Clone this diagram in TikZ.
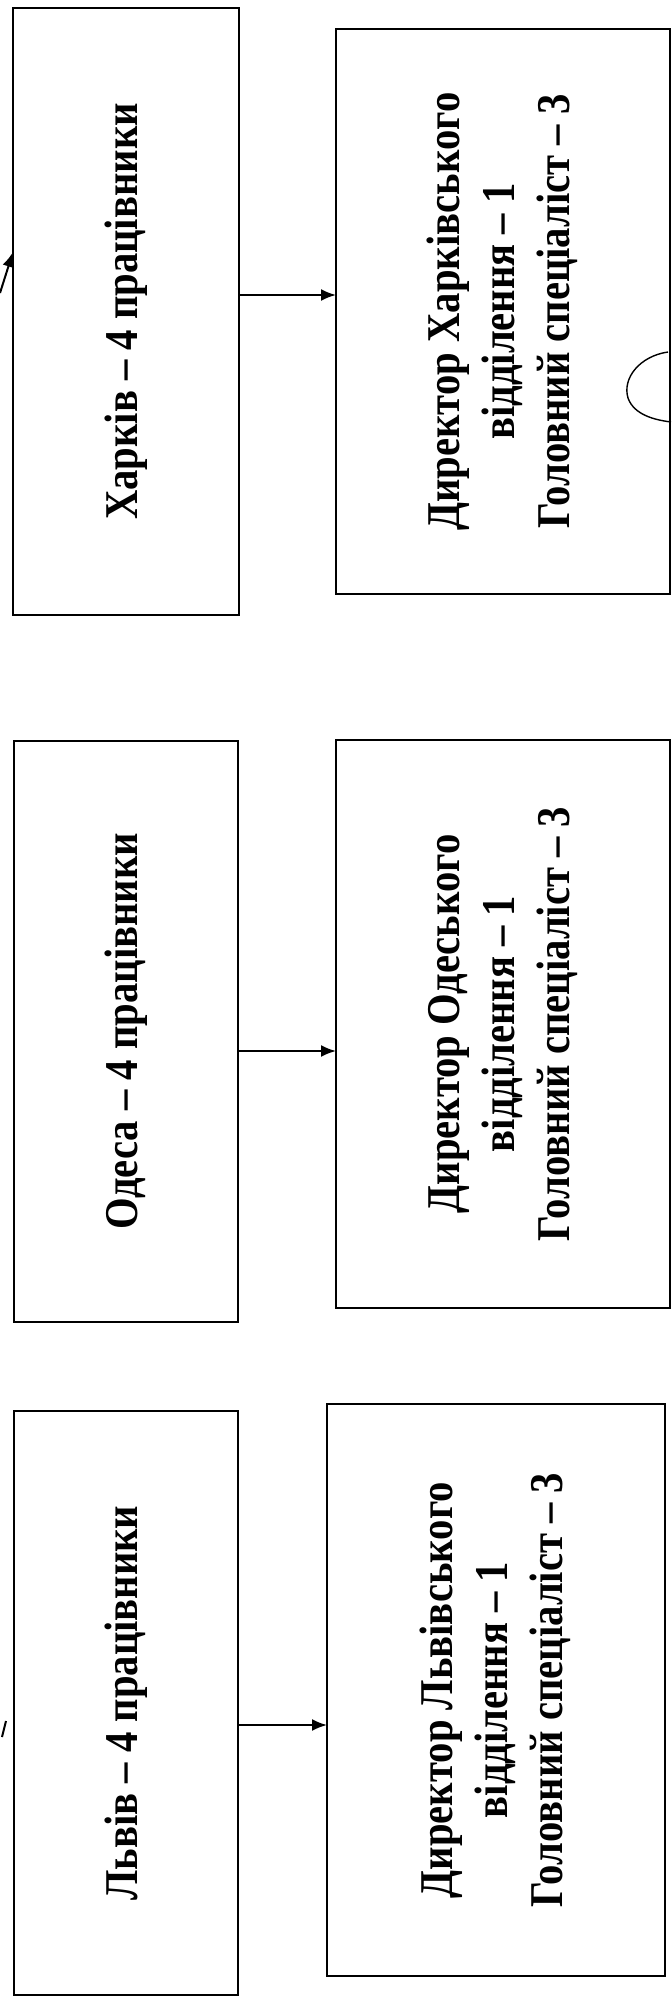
\documentclass[tikz,border=0pt]{standalone}
\usepackage{fontspec}
\setmainfont{Liberation Serif}
\usetikzlibrary{arrows.meta}
\newcommand{\rtxt}[1]{\rotatebox{90}{\scalebox{0.865}[1]{\bfseries\fontsize{23.5pt}{27.5pt}\selectfont\begin{tabular}{@{}c@{}}#1\end{tabular}}}}
\begin{document}
\begin{tikzpicture}[x=0.5pt,y=-0.5pt,
  box/.style={draw,line width=1.4pt,inner sep=0pt,outer sep=0pt},
  arr/.style={line width=1pt,-{Latex[length=7.5pt,width=6pt]}}]
\useasboundingbox[fill=white] (0,0) rectangle (671,2000);
% left column
\node[box,minimum width=113pt,minimum height=303.5pt] (kh) at (126,311.5) {\rtxt{Харків – 4 працівники}};
\node[box,minimum width=112pt,minimum height=290.5pt] (od) at (126,1031.5) {\rtxt{Одеса – 4 працівники}};
\node[box,minimum width=112pt,minimum height=292pt] (lv) at (126,1703) {\rtxt{Львів – 4 працівники}};
% right column
\node[box,minimum width=167pt,minimum height=282.5pt] (khd) at (503,311.5) {\rtxt{Директор Харківського\\відділення – 1\\Головний спеціаліст – 3}};
\node[box,minimum width=167pt,minimum height=284pt] (odd) at (503,1024) {\rtxt{Директор Одеського\\відділення – 1\\Головний спеціаліст – 3}};
\node[box,minimum width=169pt,minimum height=286pt] (lvd) at (496,1690) {\rtxt{Директор Львівського\\відділення – 1\\Головний спеціаліст – 3}};
% connectors
\coordinate (kha) at ([yshift=8.25pt]kh.east);
\draw[arr] (kha) -- (kha -| khd.west);
\coordinate (oda) at ([yshift=-9.75pt]od.east);
\draw[arr] (oda) -- (oda -| odd.west);
\coordinate (lva) at ([yshift=-11pt]lv.east);
\draw[arr] (lva) -- (lva -| lvd.west);
% fragments of incoming connectors at the left edge
\coordinate (f1) at (0,293);
\draw[arr] (f1) -- ([yshift=29.75pt]kh.west);
\coordinate (s1) at (2,1737);
\coordinate (s2) at (6,1721);
\draw[line width=1pt] (s1) -- (s2);
% pen mark
\draw[line width=0.7pt] (668,352) .. controls (640,356) and (622,378) .. (628,398) .. controls (634,415) and (655,420) .. (671,422);
\end{tikzpicture}
\end{document}
